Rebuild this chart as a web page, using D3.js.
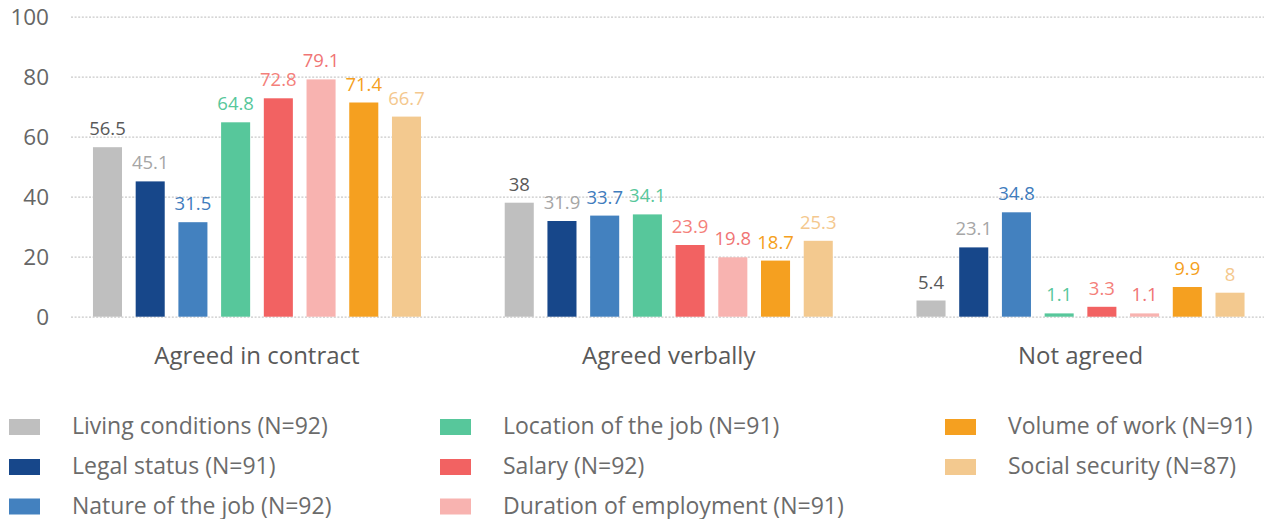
<!DOCTYPE html>
<html>
<head>
<meta charset="utf-8">
<script src="https://cdn.jsdelivr.net/npm/d3@7"></script>
<style>
  html, body { margin: 0; padding: 0; background: #fff; }
  svg { display: block; font-family: "Open Sans", sans-serif; }
</style>
</head>
<body>
<svg id="chart" width="1264" height="519"></svg>
<script>
const categories = ["Agreed in contract", "Agreed verbally", "Not agreed"];
const seriesNames = [
  "Living conditions (N=92)",
  "Legal status (N=91)",
  "Nature of the job (N=92)",
  "Location of the job (N=91)",
  "Salary (N=92)",
  "Duration of employment (N=91)",
  "Volume of work (N=91)",
  "Social security (N=87)"
];
const livingConditions = [56.5, 38, 5.4];
const legalStatus = [45.1, 31.9, 23.1];
const natureOfJob = [31.5, 33.7, 34.8];
const locationOfJob = [64.8, 34.1, 1.1];
const salary = [72.8, 23.9, 3.3];
const durationOfEmployment = [79.1, 19.8, 1.1];
const volumeOfWork = [71.4, 18.7, 9.9];
const socialSecurity = [66.7, 25.3, 8];
const yTicks = [0, 20, 40, 60, 80, 100];

const seriesValues = [livingConditions, legalStatus, natureOfJob, locationOfJob,
  salary, durationOfEmployment, volumeOfWork, socialSecurity];
const barColors = ["#bfbfbf", "#17478a", "#4381bf", "#57c79b", "#f26262", "#f8b3b0", "#f5a020", "#f3c98f"];
const labelColors = ["#595959", "#a6a6a6", "#3f7cbd", "#57c79b", "#f4807a", "#f07575", "#f5a020", "#f4c88e"];

const svg = d3.select("#chart");

const y = d3.scaleLinear().domain([0, 100]).range([316.7, 16.7]);
const x0 = d3.scaleBand().domain(categories).range([51.1, 1286.4]);
const x1 = d3.scaleBand().domain(seriesNames).range([0, x0.bandwidth()])
  .paddingInner(0.32).paddingOuter(0.98);

// gridlines
const yAxis = d3.axisLeft(y).tickValues(yTicks).tickSize(0).tickPadding(0);
const gAxis = svg.append("g").attr("transform", "translate(71,0)").call(yAxis);
gAxis.select(".domain").remove();
gAxis.selectAll(".tick line")
  .attr("x2", 1264 - 71)
  .attr("stroke", "#c9c9c9")
  .attr("stroke-width", 1.3)
  .attr("stroke-dasharray", "2,1.6");
gAxis.selectAll(".tick text")
  .attr("x", -22)
  .attr("dy", "0.36em")
  .attr("fill", "#666666")
  .style("font-size", "22.5px")
  .style("font-family", "'Open Sans', sans-serif");

// bars
const data = [];
categories.forEach((c, ci) => {
  seriesNames.forEach((s, si) => {
    data.push({ cat: c, ser: s, si: si, v: seriesValues[si][ci] });
  });
});

const gBars = svg.append("g");
gBars.selectAll("rect").data(data).join("rect")
  .attr("x", d => x0(d.cat) + x1(d.ser))
  .attr("y", d => y(d.v))
  .attr("width", x1.bandwidth())
  .attr("height", d => y(0) - y(d.v))
  .attr("fill", d => barColors[d.si]);

gBars.selectAll("text").data(data).join("text")
  .attr("x", d => x0(d.cat) + x1(d.ser) + x1.bandwidth() / 2)
  .attr("y", d => y(d.v) - 12)
  .attr("text-anchor", "middle")
  .attr("fill", d => labelColors[d.si])
  .style("font-size", "18.5px")
  .text(d => d.v);

// category labels
svg.append("g").selectAll("text").data(categories).join("text")
  .attr("x", d => x0(d) + x0.bandwidth() / 2)
  .attr("y", 364)
  .attr("text-anchor", "middle")
  .attr("fill", "#595959")
  .style("font-size", "24px")
  .text(d => d);

// legend
const legendCols = [9, 440, 945];
const legendRows = [419, 459, 498.5];
const legend = svg.append("g");
seriesNames.forEach((s, i) => {
  const col = Math.floor(i / 3), row = i % 3;
  const g = legend.append("g")
    .attr("transform", `translate(${legendCols[col]},${legendRows[row]})`);
  g.append("rect").attr("width", 31).attr("height", 16).attr("fill", barColors[i]);
  g.append("text").attr("x", 63).attr("y", 15)
    .attr("fill", "#6b6b6b")
    .style("font-size", "23px")
    .text(s);
});
</script>
</body>
</html>
